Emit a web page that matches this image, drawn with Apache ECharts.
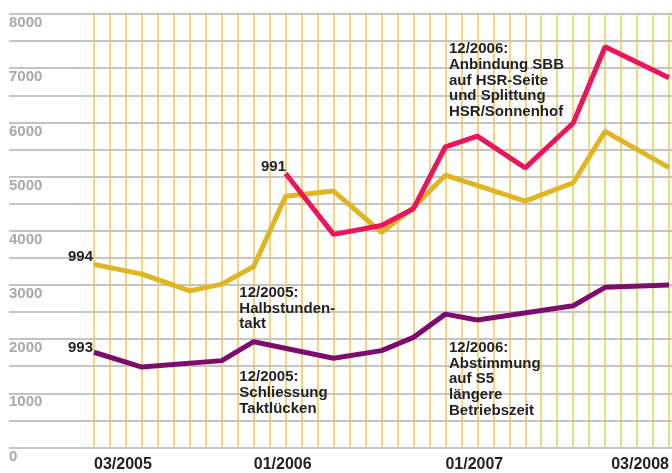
<!DOCTYPE html>
<html>
<head>
<meta charset="utf-8">
<script src="https://cdn.jsdelivr.net/npm/echarts@6/dist/echarts.min.js"></script>
<style>html,body{margin:0;padding:0;background:#fff}#c{width:672px;height:473px}</style>
</head>
<body>
<div id="c"></div>
<script>
// periods (vertical grid lines), 37 equally spaced steps, index 0..36
const periods = ['p0','p1','p2','p3','p4','p5','p6','p7','p8','p9','p10','p11','p12','p13','p14','p15','p16','p17','p18','p19','p20','p21','p22','p23','p24','p25','p26','p27','p28','p29','p30','p31','p32','p33','p34','p35','p36'];
const tickLabels = ['','','03/2005','','','','','','','','','','01/2006','','','','','','','','','','','','01/2007','','','','','','','','','','03/2008','',''];
// line 994
const line994 = [3370,null,null,3190,null,null,2880,null,3005,null,3330,null,4630,null,null,4725,null,null,3960,null,4420,null,5020,null,null,null,null,4540,null,null,4880,null,5830,null,null,null,5160];
// line 991
const line991 = [null,null,null,null,null,null,null,null,null,null,null,null,5050,null,null,3925,null,null,4090,null,4400,null,5545,null,5740,null,null,5155,null,null,5985,null,7395,null,null,null,6820];
// line 993
const line993 = [1745,null,null,1470,null,null,null,null,1590,null,1940,null,null,null,null,1635,null,null,1775,null,2020,null,2450,null,2340,null,null,null,null,null,2605,null,2945,null,null,null,2990];
const yTicks = [0,1000,2000,3000,4000,5000,6000,7000,8000];

const FONT = '"Liberation Sans", Arial, Helvetica, sans-serif';
const chart = echarts.init(document.getElementById('c'));
const lastLabelIdx = tickLabels.reduce((m, t, i) => t ? i : m, -1);
function pairs(arr) {
  const out = [];
  arr.forEach((v, i) => { if (v !== null) out.push([i, v]); });
  return out;
}
function txt(text, x, y, align, valign) {
  return {type:'text', x:x, y:y, z:100, style:{text:text, fill:'#231f20', font:'bold 15px ' + FONT, textAlign:align, textVerticalAlign:valign, lineHeight:15.7}};
}
const xLabelStyle = {fontFamily:FONT, fontSize:16, fontWeight:'bold', color:'#231f20'};
chart.setOption({
  animation:false,
  grid:[
    {left:9, right:0, top:14, height:433.5},
    {left:94, width:579.6, top:14, height:433.5}
  ],
  xAxis:[
    {gridIndex:0, type:'value', min:0, max:1, show:false},
    {gridIndex:1, type:'value', min:0, max:periods.length - 1, interval:1,
     axisLine:{show:false}, axisTick:{show:false},
     splitLine:{show:true, lineStyle:{color:'#ebc85e', width:1.5}},
     axisLabel:Object.assign({
       formatter:v => !tickLabels[v] ? '' : (v === lastLabelIdx ? '{r|' + tickLabels[v] + '}' : tickLabels[v]),
       margin:18.4, verticalAlign:'middle', padding:[0,6,0,0], showMinLabel:true, showMaxLabel:true,
       rich:{r:Object.assign({padding:[0,0,0,12]}, xLabelStyle)}
     }, xLabelStyle)}
  ],
  yAxis:[
    {gridIndex:0, type:'value', min:0, max:8000, interval:500,
     axisLine:{show:false}, axisTick:{show:false},
     splitLine:{show:true, lineStyle:{color:'#c4c4c4', width:2}},
     axisLabel:{inside:true, margin:0, formatter:v=>yTicks.includes(v)?String(v):'', fontFamily:FONT, fontSize:15, fontWeight:'bold', color:'#a9a9a9', verticalAlign:'top', lineHeight:18}},
    {gridIndex:1, type:'value', min:0, max:8000, show:false, splitLine:{show:false}}
  ],
  series:[
    {name:'994', type:'line', xAxisIndex:1, yAxisIndex:1, data:pairs(line994), symbol:'none', lineStyle:{color:'#e0b522', width:5}},
    {name:'993', type:'line', xAxisIndex:1, yAxisIndex:1, data:pairs(line993), symbol:'none', lineStyle:{color:'#7d0c6e', width:5}},
    {name:'991', type:'line', xAxisIndex:1, yAxisIndex:1, data:pairs(line991), symbol:'none', lineStyle:{color:'#eb1559', width:5}}
  ],
  graphic:[
    txt('994', 93, 257, 'right', 'middle'),
    txt('993', 93, 347.5, 'right', 'middle'),
    txt('991', 286, 167, 'right', 'middle'),
    txt('12/2005:\nHalbstunden-\ntakt', 239.3, 285, 'left', 'top'),
    txt('12/2005:\nSchliessung\nTaktlücken', 239.3, 369.5, 'left', 'top'),
    txt('12/2006:\nAnbindung SBB\nauf HSR-Seite\nund Splittung\nHSR/Sonnenhof', 449, 41.3, 'left', 'top'),
    txt('12/2006:\nAbstimmung\nauf S5\nlängere\nBetriebszeit', 449, 340, 'left', 'top')
  ]
});
</script>
</body>
</html>
